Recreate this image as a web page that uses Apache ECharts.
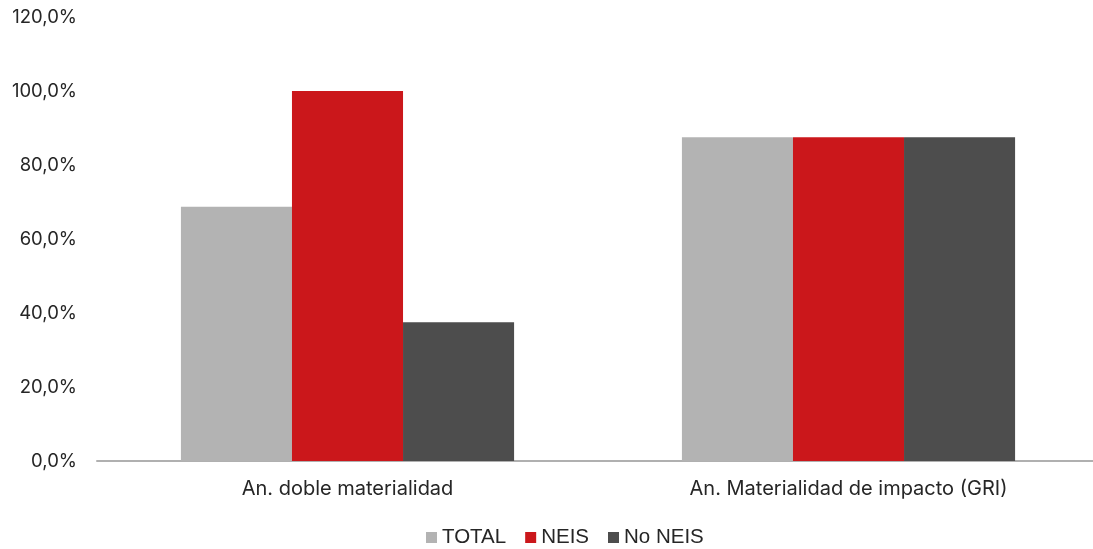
<!DOCTYPE html>
<html><head><meta charset="utf-8">
<script src="https://cdn.jsdelivr.net/npm/echarts@6/dist/echarts.min.js"></script>
<style>html,body{margin:0;padding:0;background:#fff}#c{width:1093px;height:549px}</style>
</head><body><div id="c"></div>
<script>
const categories = ['An. doble materialidad', 'An. Materialidad de impacto (GRI)'];
const seriesNames = ['TOTAL', 'NEIS', 'No NEIS'];
const totalValues = [68.75, 87.5];
const neisValues = [100, 87.5];
const noNeisValues = [37.5, 87.5];
const colors = ['#b3b3b3', '#cb171b', '#4d4d4d'];

const chart = echarts.init(document.getElementById('c'));
const fmt = v => v.toFixed(1).replace('.', ',') + '%';
chart.setOption({
  animation: false,
  textStyle: { fontFamily: 'Inter, "Liberation Sans", sans-serif' },
  grid: { left: 97, width: 1002, top: 17, bottom: 88, containLabel: false, outerBoundsMode: 'none' },
  legend: {
    top: 522, left: 421, itemWidth: 11, itemHeight: 11, itemGap: 19,
    icon: 'rect',
    textStyle: { fontSize: 20.5, color: '#262626', fontFamily: '"Liberation Sans", Arial, sans-serif' },
    data: seriesNames
  },
  xAxis: {
    type: 'category', data: categories,
    axisLine: { lineStyle: { color: '#b0b0b0', width: 2 } },
    axisTick: { show: false },
    axisLabel: { fontSize: 20, color: '#262626', margin: 18 }
  },
  yAxis: {
    type: 'value', min: 0, max: 120, interval: 20,
    splitLine: { show: false },
    axisLine: { show: false }, axisTick: { show: false },
    axisLabel: { fontSize: 18.5, color: '#262626', margin: 20, formatter: fmt }
  },
  series: [
    { name: seriesNames[0], type: 'bar', data: totalValues, itemStyle: { color: colors[0] }, barGap: '0%', barCategoryGap: '33.5%' },
    { name: seriesNames[1], type: 'bar', data: neisValues, itemStyle: { color: colors[1] }, barGap: '0%', barCategoryGap: '33.5%' },
    { name: seriesNames[2], type: 'bar', data: noNeisValues, itemStyle: { color: colors[2] }, barGap: '0%', barCategoryGap: '33.5%' }
  ]
});
</script></body></html>
